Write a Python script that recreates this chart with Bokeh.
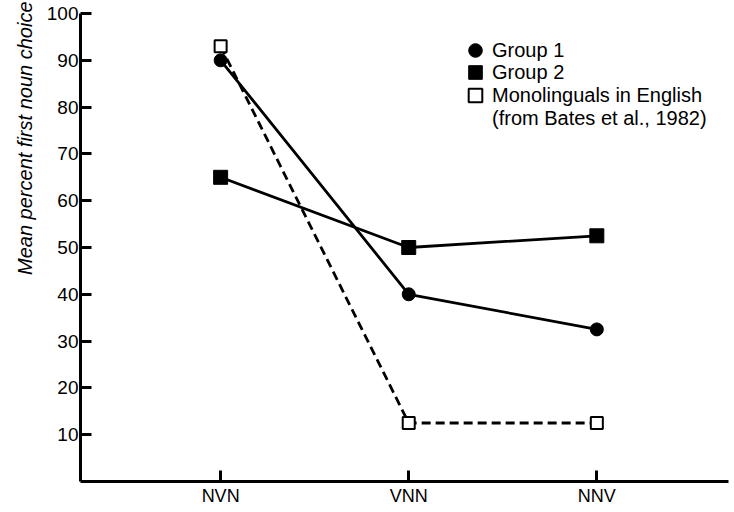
from bokeh.plotting import figure
from bokeh.models import Range1d, FixedTicker, Legend, LegendItem, Title, ColumnDataSource
from bokeh.embed import file_html
from bokeh.resources import INLINE

categories = ["NVN", "VNN", "NNV"]
group1 = [90, 40, 32.5]
group2 = [65, 50, 52.5]
monolinguals = [93, 12.5, 12.5]
y_ticks = [10, 20, 30, 40, 50, 60, 70, 80, 90, 100]
y_title = "Mean percent first noun choice"
legend_labels = ["Group 1", "Group 2", "Monolinguals in English", "(from Bates et al., 1982)"]

FONT = "Liberation Sans"
xs = list(range(len(categories)))
src = ColumnDataSource(dict(x=xs, g1=group1, g2=group2, mono=monolinguals))

p = figure(width=734, height=512, output_backend="svg", toolbar_location=None,
           x_range=Range1d(-0.745, 2.70), y_range=Range1d(0, 100),
           min_border_top=13, min_border_right=6, min_border_left=80, min_border_bottom=31)
p.outline_line_color = None
p.grid.visible = False
p.background_fill_color = "white"

# axes
p.xaxis.ticker = FixedTicker(ticks=xs)
p.xaxis.major_label_overrides = {i: c for i, c in enumerate(categories)}
p.yaxis.ticker = FixedTicker(ticks=y_ticks)
for ax in (p.xaxis[0], p.yaxis[0]):
    ax.axis_line_width = 3
    ax.axis_line_color = "black"
    ax.major_tick_line_width = 3
    ax.major_tick_line_color = "black"
    ax.major_tick_out = 0
    ax.minor_tick_line_color = None
    ax.major_label_text_font = FONT
    ax.major_label_text_color = "black"
p.yaxis.major_tick_in = 11
p.xaxis.major_tick_in = 11
p.yaxis.major_label_text_font_size = "19px"
p.xaxis.major_label_text_font_size = "18px"
p.yaxis.major_label_standoff = 2
p.xaxis.major_label_standoff = 4

# y-axis title, aligned toward the top as in the original
p.add_layout(Title(text=y_title, align="right", text_font=FONT,
                   text_font_style="italic", text_font_size="20px",
                   text_color="black", standoff=16, offset=-12), "left")

# lines
p.line("x", "mono", source=src, line_color="black", line_width=2.8, line_dash="9 5")
p.line("x", "g1", source=src, line_color="black", line_width=2.8)
p.line("x", "g2", source=src, line_color="black", line_width=2.8)

# markers
r_mono = p.scatter("x", "mono", source=src, marker="square", size=12,
                   fill_color="white", line_color="black", line_width=2)
r_g1 = p.scatter("x", "g1", source=src, marker="circle", size=13,
                 fill_color="black", line_color="black")
r_g2 = p.scatter("x", "g2", source=src, marker="square", size=14,
                 fill_color="black", line_color="black")
r_blank = p.scatter(x=[], y=[], marker="square", size=1, fill_alpha=0, line_alpha=0)

renderers = [r_g1, r_g2, r_mono, r_blank]
legend_y = [414, 392, 369, 346]
for lab, rend, ly in zip(legend_labels, renderers, legend_y):
    lg = Legend(items=[LegendItem(label=lab, renderers=[rend])],
                location=(378, ly), glyph_width=34, glyph_height=34,
                label_standoff=0, padding=0, margin=0, border_line_color=None,
                background_fill_alpha=0, label_text_font=FONT,
                label_text_font_size="20px", label_text_color="black")
    p.add_layout(lg)

open("out.html", "w").write(file_html(p, INLINE))
